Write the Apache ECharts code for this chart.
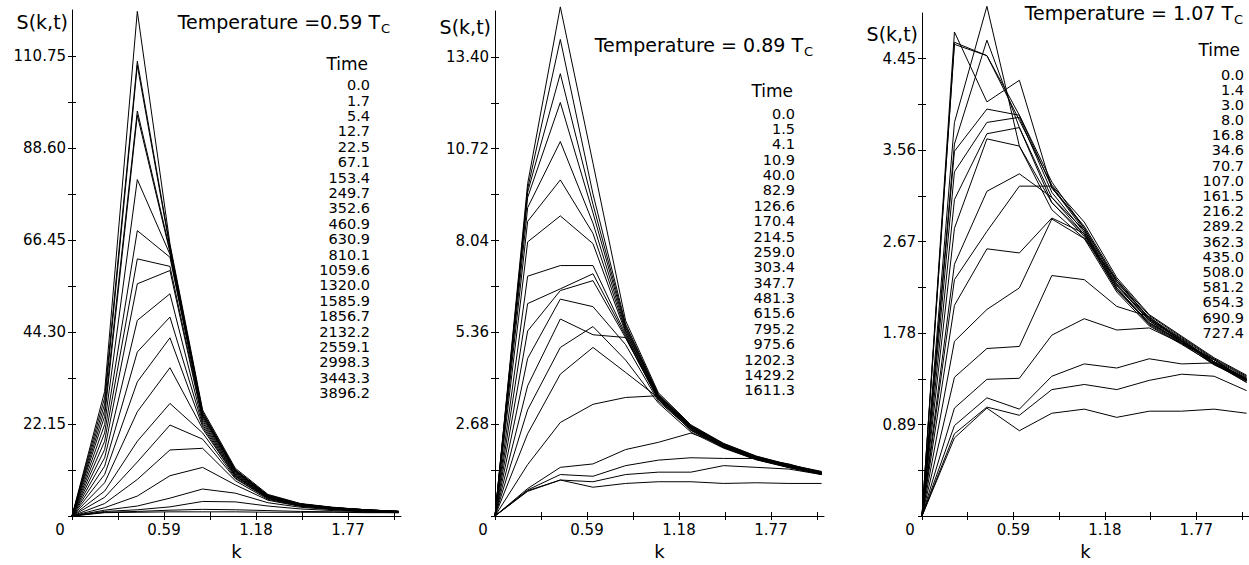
<!DOCTYPE html>
<html><head><meta charset="utf-8">
<script src="https://cdn.jsdelivr.net/npm/echarts@6/dist/echarts.min.js"></script>
<style>html,body{margin:0;padding:0;background:#fff;}#c{width:1249px;height:565px;}</style>
</head><body><div id="c"></div>
<script>
// ---------- data ----------
const kValues = [0, 0.2094, 0.4189, 0.6283, 0.8378, 1.0472, 1.2566, 1.4661, 1.6755, 1.8850, 2.0944];
const xTickValues = [0, 0.295, 0.59, 0.885, 1.18, 1.475, 1.77, 2.065];
const xLabelValues = [0, 0.59, 1.18, 1.77];

const temps = ['0.59', '0.89', '1.07'];

const times1 = [0.0, 1.7, 5.4, 12.7, 22.5, 67.1, 153.4, 249.7, 352.6, 460.9, 630.9, 810.1, 1059.6, 1320.0, 1585.9, 1856.7, 2132.2, 2559.1, 2998.3, 3443.3, 3896.2];
const times2 = [0.0, 1.5, 4.1, 10.9, 40.0, 82.9, 126.6, 170.4, 214.5, 259.0, 303.4, 347.7, 481.3, 615.6, 795.2, 975.6, 1202.3, 1429.2, 1611.3];
const times3 = [0.0, 1.4, 3.0, 8.0, 16.8, 34.6, 70.7, 107.0, 161.5, 216.2, 289.2, 362.3, 435.0, 508.0, 581.2, 654.3, 690.9, 727.4];

const yLabels1 = [22.15, 44.30, 66.45, 88.60, 110.75];
const yTicks1 = [0, 11.075, 22.15, 33.225, 44.30, 55.375, 66.45, 77.525, 88.60, 99.675, 110.75];
const yLabels2 = [2.68, 5.36, 8.04, 10.72, 13.40];
const yTicks2 = [0, 1.34, 2.68, 4.02, 5.36, 6.70, 8.04, 9.38, 10.72, 12.06, 13.40];
const yLabels3 = [0.89, 1.78, 2.67, 3.56, 4.45];
const yTicks3 = [0, 0.445, 0.89, 1.335, 1.78, 2.225, 2.67, 3.115, 3.56, 4.005, 4.45];
const yMaxes = [121.825, 14.74, 4.895];

// S(k,t) for each time (rows) at each k (columns) -- T = 0.59 Tc
const values1 = [
  [0, 0.8, 0.9, 1.0, 1.0, 1.0, 0.9, 0.9, 0.9, 0.8, 0.8],
  [0, 0.9, 1.1, 1.4, 1.6, 1.5, 1.3, 1.1, 1.0, 0.9, 0.8],
  [0, 1.1, 1.5, 2.2, 3.5, 3.4, 2.4, 1.7, 1.3, 1.0, 0.9],
  [0, 1.4, 2.4, 4.3, 6.5, 5.5, 3.2, 2.1, 1.5, 1.1, 0.9],
  [0, 2.0, 4.8, 9.7, 11.7, 7.5, 3.8, 2.3, 1.6, 1.2, 0.9],
  [0, 3.0, 8.8, 15.9, 16.3, 8.5, 4.0, 2.4, 1.7, 1.2, 1.0],
  [0, 4.5, 13.0, 21.9, 18.5, 9.0, 4.2, 2.5, 1.7, 1.3, 1.0],
  [0, 6.0, 18.0, 27.1, 20.0, 9.2, 4.3, 2.5, 1.8, 1.3, 1.0],
  [0, 8.0, 25.1, 35.7, 21.0, 9.5, 4.4, 2.6, 1.8, 1.3, 1.0],
  [0, 10.0, 32.3, 42.9, 21.5, 9.6, 4.5, 2.6, 1.8, 1.3, 1.0],
  [0, 12.0, 39.5, 47.9, 22.0, 9.8, 4.5, 2.6, 1.8, 1.3, 1.0],
  [0, 14.0, 47.1, 53.5, 22.5, 10.0, 4.6, 2.7, 1.9, 1.4, 1.0],
  [0, 16.0, 55.9, 59.1, 23.0, 10.2, 4.7, 2.7, 1.9, 1.4, 1.0],
  [0, 18.0, 61.9, 60.1, 23.5, 10.4, 4.7, 2.7, 1.9, 1.4, 1.1],
  [0, 20.0, 68.7, 62.3, 24.0, 10.6, 4.8, 2.8, 1.9, 1.4, 1.1],
  [0, 22.0, 81.0, 63.0, 24.0, 10.8, 4.8, 2.8, 2.0, 1.4, 1.1],
  [0, 24.0, 96.5, 63.5, 24.5, 10.8, 4.9, 2.8, 2.0, 1.5, 1.1],
  [0, 25.5, 97.5, 64.0, 24.5, 11.0, 4.9, 2.9, 2.0, 1.5, 1.1],
  [0, 27.0, 108.5, 64.5, 25.0, 11.0, 5.0, 2.9, 2.0, 1.5, 1.1],
  [0, 28.5, 109.5, 65.0, 25.0, 11.2, 5.0, 2.9, 2.0, 1.5, 1.1],
  [0, 30.0, 121.5, 65.5, 25.5, 11.5, 5.2, 3.0, 2.1, 1.5, 1.1]
];
// T = 0.89 Tc
const values2 = [
  [0, 0.72, 1.05, 0.84, 0.95, 1.00, 1.00, 0.95, 0.97, 0.95, 0.95],
  [0, 0.74, 1.05, 1.00, 1.21, 1.28, 1.28, 1.47, 1.42, 1.37, 1.21],
  [0, 0.76, 1.21, 1.16, 1.47, 1.63, 1.70, 1.68, 1.68, 1.52, 1.24],
  [0, 0.80, 1.42, 1.52, 1.94, 2.15, 2.42, 2.08, 1.72, 1.45, 1.24],
  [0, 1.50, 2.73, 3.26, 3.46, 3.51, 2.55, 2.02, 1.66, 1.42, 1.22],
  [0, 2.40, 4.14, 4.92, 4.19, 3.45, 2.50, 2.00, 1.65, 1.42, 1.22],
  [0, 3.10, 4.92, 5.53, 4.55, 3.30, 2.45, 1.98, 1.64, 1.41, 1.21],
  [0, 3.80, 5.75, 5.29, 5.21, 3.40, 2.50, 2.00, 1.66, 1.43, 1.22],
  [0, 4.60, 6.33, 6.11, 5.00, 3.35, 2.52, 2.02, 1.67, 1.44, 1.23],
  [0, 5.40, 6.58, 6.87, 5.20, 3.40, 2.55, 2.03, 1.68, 1.45, 1.24],
  [0, 6.20, 6.63, 7.07, 5.25, 3.42, 2.56, 2.04, 1.68, 1.45, 1.25],
  [0, 7.00, 7.31, 7.31, 5.30, 3.45, 2.58, 2.05, 1.69, 1.46, 1.25],
  [0, 8.00, 8.76, 7.95, 5.35, 3.46, 2.59, 2.06, 1.70, 1.46, 1.26],
  [0, 8.60, 9.81, 8.25, 5.40, 3.48, 2.60, 2.07, 1.70, 1.47, 1.26],
  [0, 9.00, 10.93, 8.55, 5.45, 3.50, 2.61, 2.08, 1.71, 1.47, 1.27],
  [0, 9.30, 12.07, 8.85, 5.50, 3.52, 2.62, 2.09, 1.72, 1.48, 1.27],
  [0, 9.45, 12.91, 9.10, 5.55, 3.54, 2.63, 2.10, 1.73, 1.48, 1.28],
  [0, 9.55, 13.91, 9.40, 5.60, 3.56, 2.64, 2.11, 1.74, 1.49, 1.29],
  [0, 9.70, 14.86, 10.30, 5.70, 3.60, 2.66, 2.12, 1.75, 1.50, 1.30]
];
// T = 1.07 Tc
const values3 = [
  [0, 0.76, 1.05, 0.83, 1.00, 1.04, 0.96, 1.02, 1.02, 1.04, 1.00],
  [0, 0.80, 1.06, 0.98, 1.23, 1.28, 1.23, 1.32, 1.38, 1.36, 1.22],
  [0, 0.88, 1.15, 1.04, 1.36, 1.48, 1.44, 1.53, 1.48, 1.49, 1.30],
  [0, 1.05, 1.33, 1.34, 1.76, 1.92, 1.81, 1.83, 1.68, 1.52, 1.32],
  [0, 1.35, 1.63, 1.65, 2.34, 2.30, 2.04, 1.94, 1.70, 1.50, 1.31],
  [0, 1.70, 2.01, 2.22, 2.89, 2.70, 2.30, 1.92, 1.70, 1.52, 1.32],
  [0, 2.05, 2.60, 2.56, 2.90, 2.75, 2.25, 1.90, 1.68, 1.50, 1.33],
  [0, 2.45, 3.16, 3.33, 3.10, 2.78, 2.22, 1.88, 1.70, 1.48, 1.32],
  [0, 2.30, 2.77, 3.21, 3.21, 2.80, 2.28, 1.92, 1.72, 1.50, 1.34],
  [0, 2.80, 3.67, 3.60, 3.05, 2.72, 2.20, 1.88, 1.70, 1.48, 1.33],
  [0, 3.08, 3.72, 3.78, 3.10, 2.74, 2.22, 1.86, 1.68, 1.47, 1.32],
  [0, 3.35, 3.83, 3.88, 3.15, 2.76, 2.24, 1.90, 1.71, 1.49, 1.33],
  [0, 3.55, 3.96, 3.90, 3.20, 2.78, 2.26, 1.91, 1.72, 1.50, 1.34],
  [0, 3.62, 4.63, 3.78, 3.05, 2.74, 2.20, 1.87, 1.69, 1.50, 1.33],
  [0, 3.83, 4.96, 3.60, 2.98, 2.70, 2.18, 1.85, 1.67, 1.48, 1.30],
  [0, 4.59, 4.48, 3.90, 3.25, 2.80, 2.28, 1.93, 1.73, 1.52, 1.35],
  [0, 4.71, 4.03, 4.24, 3.19, 2.82, 2.30, 1.95, 1.74, 1.53, 1.36],
  [0, 4.61, 4.48, 3.85, 3.22, 2.86, 2.32, 1.96, 1.75, 1.54, 1.37]
];

// ---------- layout (positions / styles only) ----------
const FONT = 'DejaVu Sans';
const INK = '#000';
const xMax = 2.11;
const gridWidth = 329;
const layout = [
  { left: 72,  top: 10, height: 508,   title: [380, 22],  sk: [68, 22],  head: [368, 64],  list: [370, 85.3, 15.4] },
  { left: 495, top: 11, height: 509,   title: [803, 45],  sk: [491, 27], head: [793, 91],  list: [795, 113.6, 15.37] },
  { left: 922, top: 13, height: 509.5, title: [1233, 13], sk: [918, 34], head: [1240, 50], list: [1244, 74.5, 15.19] }
];
const allTimes = [times1, times2, times3];
const allValues = [values1, values2, values3];
const allYLabels = [yLabels1, yLabels2, yLabels3];
const allYTicks = [yTicks1, yTicks2, yTicks3];

const grid = [], xAxis = [], yAxis = [], series = [], graphic = [];
layout.forEach((L, i) => {
  grid.push({ left: L.left, top: L.top, width: gridWidth, height: L.height, containLabel: false });
  xAxis.push({
    gridIndex: i, type: 'value', min: 0, max: xMax, position: 'bottom',
    axisLine: { show: true, onZero: false, lineStyle: { color: INK, width: 1 } },
    axisTick: { show: true, inside: false, length: 4, customValues: xTickValues, lineStyle: { color: INK, width: 1 } },
    axisLabel: {
      show: true, customValues: xLabelValues, margin: 6, color: INK, fontSize: 15, fontFamily: FONT,
      formatter: v => (v === 0 ? '{o|0}' : v.toFixed(2)),
      rich: { o: { fontSize: 15, fontFamily: FONT, color: INK, padding: [0, 24, 0, 0] } }
    },
    splitLine: { show: false },
    name: 'k', nameLocation: 'middle', nameGap: 26,
    nameTextStyle: { fontSize: 18, fontFamily: FONT, color: INK }
  });
  xAxis.push({
    gridIndex: i, type: 'value', min: 0, max: xMax, position: 'bottom',
    axisLine: { show: false, onZero: false },
    axisTick: { show: true, inside: true, length: 4, customValues: xTickValues, lineStyle: { color: INK, width: 1 } },
    axisLabel: { show: false }, splitLine: { show: false }
  });
  yAxis.push({
    gridIndex: i, type: 'value', min: 0, max: yMaxes[i], position: 'left',
    axisLine: { show: true, onZero: false, lineStyle: { color: INK, width: 1 } },
    axisTick: { show: true, inside: false, length: 4, customValues: allYTicks[i], lineStyle: { color: INK, width: 1 } },
    axisLabel: { show: true, customValues: allYLabels[i], margin: 6, color: INK, fontSize: 15, fontFamily: FONT,
      formatter: v => v.toFixed(2) },
    splitLine: { show: false }
  });
  yAxis.push({
    gridIndex: i, type: 'value', min: 0, max: yMaxes[i], position: 'left',
    axisLine: { show: false, onZero: false },
    axisTick: { show: true, inside: true, length: 4, customValues: allYTicks[i], lineStyle: { color: INK, width: 1 } },
    axisLabel: { show: false }, splitLine: { show: false }
  });
  allValues[i].forEach((row, r) => {
    series.push({
      type: 'line', name: 't' + allTimes[i][r], xAxisIndex: 2 * i, yAxisIndex: 2 * i,
      data: kValues.map((k, j) => [k, row[j]]),
      symbol: 'none', clip: false, silent: true,
      lineStyle: { color: INK, width: 1 }
    });
  });
  graphic.push({ type: 'text', x: L.sk[0], y: L.sk[1], style: { text: 'S(k,t)', fill: INK, font: '19px "' + FONT + '"', textAlign: 'right', textVerticalAlign: 'middle' } });
  graphic.push({ type: 'text', x: L.title[0], y: L.title[1], style: { text: (i === 0 ? 'Temperature =' : 'Temperature = ') + temps[i] + ' T', fill: INK, font: '19px "' + FONT + '"', textAlign: 'right', textVerticalAlign: 'middle' } });
  graphic.push({ type: 'text', x: L.title[0] + 1, y: L.title[1] + 6, style: { text: 'C', fill: INK, font: '13px "' + FONT + '"', textAlign: 'left', textVerticalAlign: 'middle' } });
  graphic.push({ type: 'text', x: L.head[0], y: L.head[1], style: { text: 'Time', fill: INK, font: '17px "' + FONT + '"', textAlign: 'right', textVerticalAlign: 'middle' } });
  graphic.push({ type: 'text', x: L.list[0], y: L.list[1] - L.list[2] / 2, style: {
    text: allTimes[i].map(t => t.toFixed(1)).join('\n'), fill: INK, font: '14.5px "' + FONT + '"',
    textAlign: 'right', textVerticalAlign: 'top', lineHeight: L.list[2] } });
});

const chart = echarts.init(document.getElementById('c'), null, { renderer: 'svg' });
chart.setOption({
  animation: false, backgroundColor: '#fff',
  grid, xAxis, yAxis, series, graphic
});
</script></body></html>
